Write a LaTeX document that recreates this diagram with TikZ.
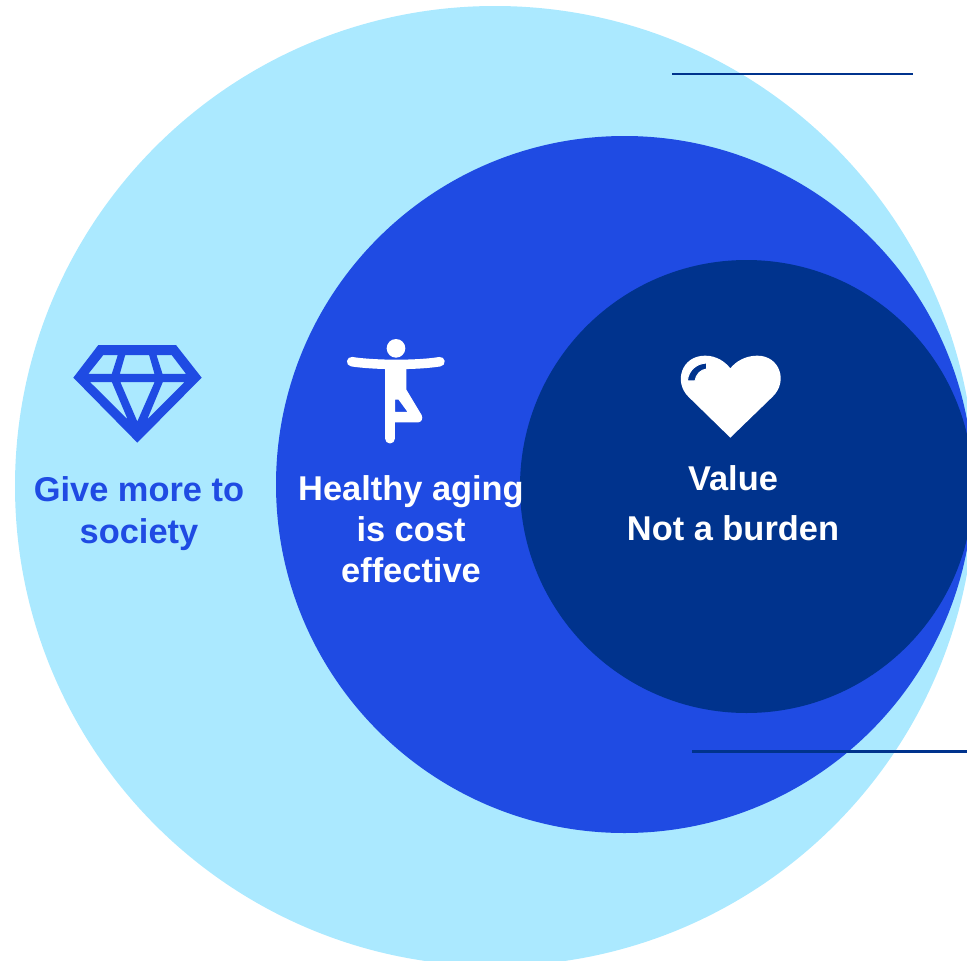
\documentclass[tikz,border=0pt]{standalone}
\usepackage{fontspec}
\setmainfont{Liberation Sans}
\definecolor{lightc}{HTML}{ABE9FF}
\definecolor{midc}{HTML}{1F4BE3}
\definecolor{darkc}{HTML}{00338D}
\tikzset{
  disc/.style={circle,inner sep=0pt,minimum size=#1},
  lab/.style={align=center,font=\fontsize{34.4}{41}\selectfont\bfseries,inner sep=0pt},
  rule/.style={draw=darkc,line width=2.8pt},
  zoomed/.style={x=0.3333pt,y=-0.3333pt}
}
\begin{document}
\begin{tikzpicture}[x=1pt,y=-1pt]
\useasboundingbox (0,0) rectangle (967,961);
\clip (0,0) rectangle (967,961);
\node[disc=960pt,fill=lightc] (outer) at (495,486) {};
\coordinate (r1a) at (672,74); \coordinate (r1b) at (913,74);
\draw[rule] (r1a) -- (r1b);
\node[disc=697pt,fill=midc] (middle) at (624.5,484.5) {};
\coordinate (r2a) at (692,751.5); \coordinate (r2b) at (967,751.5);
\draw[rule] (r2a) -- (r2b);
\node[disc=453pt,fill=darkc] (inner) at (746.5,486.5) {};
% diamond
\begin{scope}[shift={(60,330)},zoomed]
\fill[midc] (115,45)--(348,45)--(425,143)--(232,338)--(40,143)--cycle;
\filldraw[fill=lightc,draw=midc,line width=2.3pt]
 (128,72)--(178,72)--(158,135)--(78,135)--cycle
 (193,72)--(270,72)--(288,135)--(175,135)--cycle
 (285,72)--(337,72)--(385,135)--(305,135)--cycle
 (82,153)--(158,153)--(213,283)--cycle
 (176,153)--(289,153)--(232,283)--cycle
 (306,153)--(382,153)--(252,283)--cycle;
\end{scope}
% person
\begin{scope}[shift={(335,330)},zoomed]
\fill[white] (183,55) circle[x radius=28,y radius=28];
\draw[white,line width=9.5pt,line cap=round] (50,95) .. controls (120,106) and (250,106) .. (315,95);
\filldraw[fill=white,draw=white,line width=1pt,line join=round] (152,105)--(213,105)--(213,180)--(258,255)
  .. controls (264,265) and (258,276) .. (248,276) -- (178,276) -- (178,326)
  arc[start angle=0,end angle=-180,x radius=13,y radius=-13] -- cycle;
\filldraw[fill=midc,draw=white,line width=1.5pt] (178,207)--(192,207)--(222,248)--(178,248)--cycle;
\end{scope}
% heart
\begin{scope}[shift={(670,345)},zoomed]
\fill[white] (181,278) -- (55,155) .. controls (10,110) and (35,32) .. (105,32)
  .. controls (140,32) and (165,50) .. (181,70)
  .. controls (197,50) and (225,32) .. (262,32)
  .. controls (330,32) and (355,110) .. (308,155) -- cycle;
\filldraw[fill=darkc,draw=white,line width=1pt] (52,108) .. controls (55,75) and (80,55) .. (110,54) -- (110,72)
  .. controls (92,74) and (78,88) .. (75,108) -- cycle;
\end{scope}
\node[lab,text=midc,font=\fontsize{34.4}{42}\selectfont\bfseries] (give) at (139,514) {Give more to\\society};
\node[lab,text=white] (healthy) at (411,529) {Healthy aging\\is cost\\effective};
\node[lab,text=white,font=\fontsize{34.4}{50}\selectfont\bfseries] (value) at (733,503.5) {Value\\Not a burden};
\end{tikzpicture}
\end{document}
